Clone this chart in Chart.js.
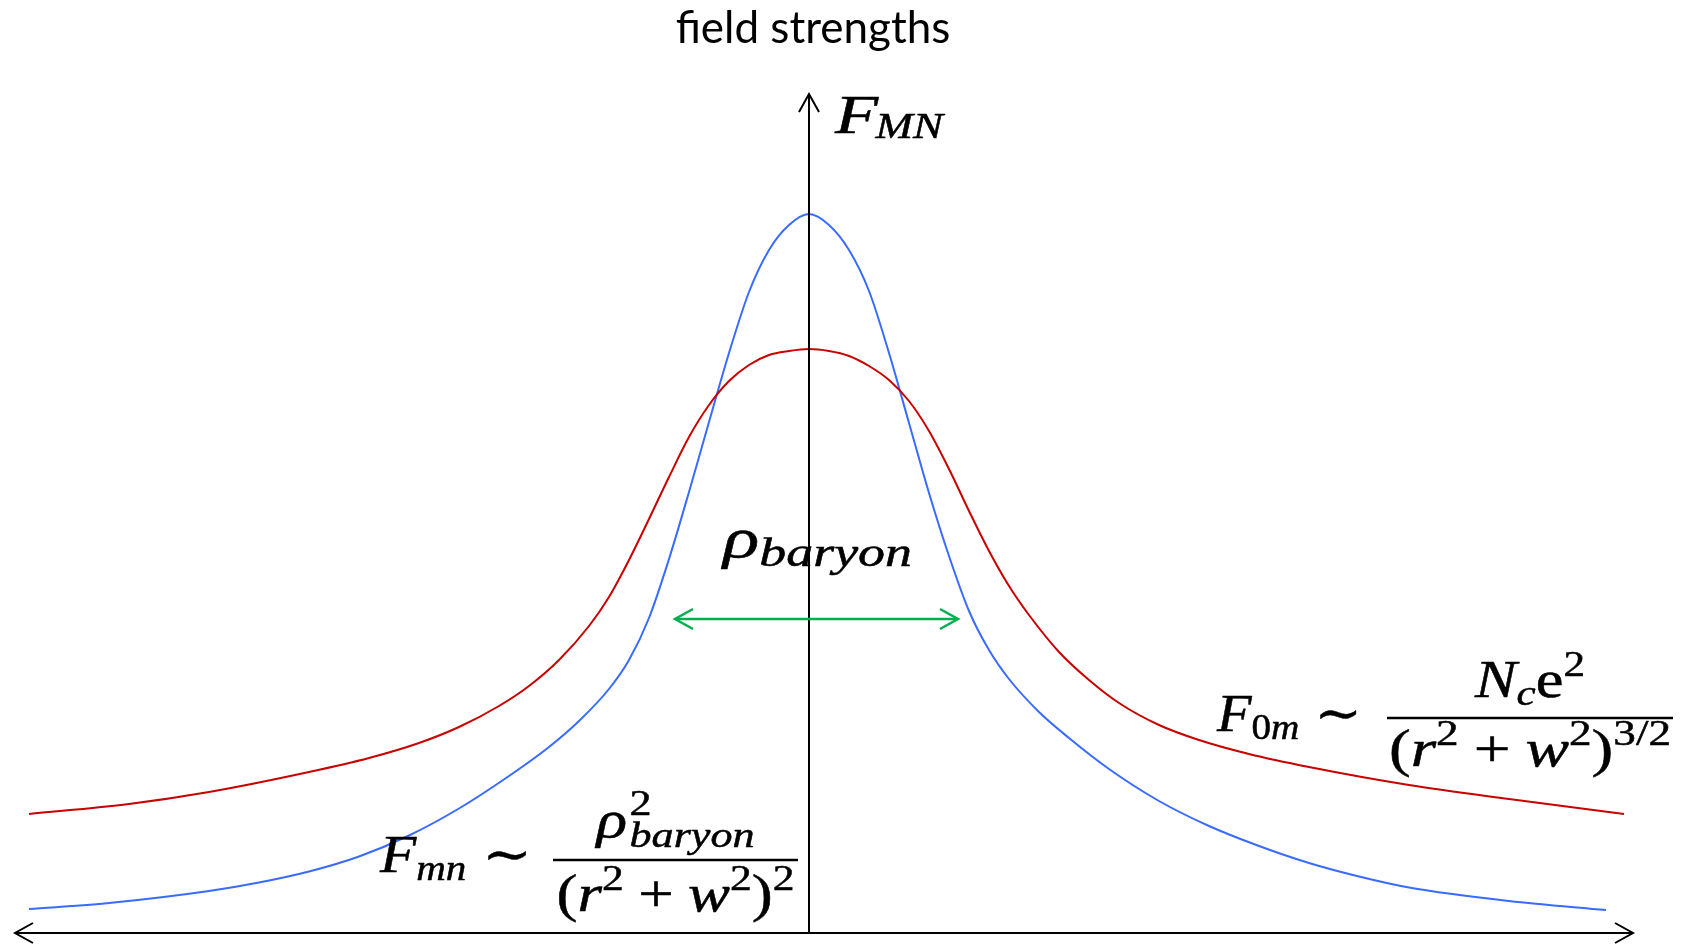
<!DOCTYPE html>
<html>
<head>
<meta charset="utf-8">
<script src="https://cdn.jsdelivr.net/npm/chart.js@4.4.1/dist/chart.umd.min.js"></script>
<style>
  html, body { margin: 0; padding: 0; background: #ffffff; }
  #wrap { width: 1693px; height: 944px; position: relative; }
</style>
</head>
<body>
<div id="wrap"><canvas id="chart"></canvas></div>
<script>
// Radial coordinate r (arbitrary units, core of the baryon at r = 0)
const magneticR = [-7.80, -7.0, -6.0, -5.5, -5.0, -4.5, -4.0, -3.5, -3.0, -2.6, -2.3, -2.0, -1.8, -1.6,
  -1.4, -1.2, -1.0, -0.8, -0.6, -0.4, -0.2, 0.0, 0.2, 0.4, 0.6, 0.8, 1.0, 1.2, 1.4, 1.6, 1.8, 2.0,
  2.3, 2.6, 3.0, 3.5, 4.0, 4.5, 5.0, 5.5, 6.0, 7.0, 7.97];
// Magnetic field strength F_mn (blue)
const magneticF = [0.24, 0.30, 0.42, 0.505, 0.615, 0.765, 0.975, 1.245, 1.57, 1.86, 2.12, 2.44, 2.73, 3.15,
  3.74, 4.41, 5.11, 5.80, 6.41, 6.83, 7.08, 7.19, 7.08, 6.83, 6.42, 5.80, 5.10, 4.40, 3.77, 3.22, 2.83, 2.54,
  2.21, 1.95, 1.64, 1.32, 1.07, 0.87, 0.70, 0.565, 0.455, 0.32, 0.23];

const electricR = [-7.80, -6.8, -6.0, -5.0, -4.4, -3.9, -3.5, -3.1, -2.8, -2.5, -2.2, -2.0, -1.8, -1.6,
  -1.4, -1.2, -1.0, -0.8, -0.6, -0.4, -0.2, 0.0, 0.2, 0.4, 0.6, 0.8, 1.0, 1.2, 1.4, 1.6, 1.8, 2.0,
  2.2, 2.5, 2.8, 3.1, 3.5, 3.9, 4.4, 5.0, 6.0, 7.0, 8.15];
// Electric field strength F_0m (red)
const electricF = [1.19, 1.29, 1.41, 1.61, 1.75, 1.90, 2.06, 2.27, 2.47, 2.73, 3.07, 3.36, 3.73, 4.14,
  4.56, 4.96, 5.28, 5.52, 5.68, 5.78, 5.82, 5.84, 5.82, 5.77, 5.67, 5.53, 5.32, 5.02, 4.64, 4.22, 3.82, 3.47,
  3.18, 2.81, 2.53, 2.30, 2.08, 1.93, 1.79, 1.66, 1.48, 1.34, 1.19];

// Baryon size marker (extent in r) and axis extents
const baryonWidth = [-1.34, 1.49];
const baryonWidthLevel = 3.14;
const rAxisRange = [-7.94, 8.24];
const fAxisTop = 8.39;

const toPoints = (xs, ys) => xs.map((x, i) => ({ x: x, y: ys[i] }));

// ---- small helpers for typeset formulas on the canvas ----
const MATH_FONT = '"Liberation Serif", "DejaVu Serif", serif';
function fontOf(r) { return (r.i ? 'italic ' : '') + r.s + 'px ' + MATH_FONT; }
function runWidth(ctx, r) {
  if (r.stack) return Math.max.apply(null, r.stack.map(q => runWidth(ctx, q)));
  ctx.font = fontOf(r);
  return ctx.measureText(r.t).width;
}
function measureRuns(ctx, runs) {
  return runs.reduce((w, r) => w + (r.gap || 0) + runWidth(ctx, r), 0);
}
function drawRuns(ctx, runs, x, y, width, align) {
  const nat = measureRuns(ctx, runs);
  const sx = width ? width / nat : 1;
  const w = nat * sx;
  const x0 = align === 'center' ? x - w / 2 : x;
  ctx.save();
  ctx.translate(x0, y);
  ctx.scale(sx, 1);
  ctx.textBaseline = 'alphabetic';
  ctx.textAlign = 'left';
  ctx.fillStyle = '#000';
  ctx.strokeStyle = '#000';
  ctx.lineWidth = 0.5;
  ctx.lineJoin = 'round';
  let cx = 0;
  for (const r of runs) {
    cx += r.gap || 0;
    const items = r.stack || [r];
    for (const q of items) {
      ctx.font = fontOf(q);
      ctx.fillText(q.t, cx, q.dy || 0);
      ctx.strokeText(q.t, cx, q.dy || 0);
    }
    cx += runWidth(ctx, r);
  }
  ctx.restore();
}
function openArrowHead(ctx, tx, ty, dir) {
  // dir: 'left' | 'right' | 'up'
  const back = 18, half = 10;
  ctx.beginPath();
  if (dir === 'left') { ctx.moveTo(tx + back, ty - half); ctx.lineTo(tx, ty); ctx.lineTo(tx + back, ty + half); }
  if (dir === 'right') { ctx.moveTo(tx - back, ty - half); ctx.lineTo(tx, ty); ctx.lineTo(tx - back, ty + half); }
  if (dir === 'up') { ctx.moveTo(tx - half, ty + back); ctx.lineTo(tx, ty); ctx.lineTo(tx + half, ty + back); }
  ctx.stroke();
}

// formula pieces
const sq = (dy) => ({ t: '2', s: 36, dy: dy });
const denomCore = [
  { t: '(', s: 52 }, { t: 'r', s: 52, i: 1 }, sq(-21),
  { t: '+', s: 52, gap: 12 }, { t: 'w', s: 52, i: 1, gap: 12 }, sq(-21), { t: ')', s: 52 }
];

const decorations = {
  id: 'decorations',
  afterDatasetsDraw(chart) {
    const ctx = chart.ctx;
    const xs = chart.scales.x, ys = chart.scales.y;
    const px = v => xs.getPixelForValue(v);
    const py = v => ys.getPixelForValue(v);
    ctx.save();

    // axes with open arrow heads
    ctx.strokeStyle = '#000';
    ctx.lineWidth = 2;
    ctx.lineCap = 'butt';
    ctx.beginPath();
    ctx.moveTo(px(rAxisRange[0]), py(0)); ctx.lineTo(px(rAxisRange[1]), py(0));
    ctx.moveTo(px(0), py(0)); ctx.lineTo(px(0), py(fAxisTop));
    ctx.stroke();
    openArrowHead(ctx, px(rAxisRange[0]), py(0), 'left');
    openArrowHead(ctx, px(rAxisRange[1]), py(0), 'right');
    openArrowHead(ctx, px(0), py(fAxisTop), 'up');

    // baryon size double arrow
    ctx.strokeStyle = '#00b050';
    ctx.lineWidth = 2.5;
    ctx.beginPath();
    ctx.moveTo(px(baryonWidth[0]), py(baryonWidthLevel));
    ctx.lineTo(px(baryonWidth[1]), py(baryonWidthLevel));
    ctx.stroke();
    openArrowHead(ctx, px(baryonWidth[0]), py(baryonWidthLevel), 'left');
    openArrowHead(ctx, px(baryonWidth[1]), py(baryonWidthLevel), 'right');

    // title
    ctx.fillStyle = '#000';
    ctx.font = '44px Lato, "Open Sans", sans-serif';
    ctx.textAlign = 'center';
    ctx.textBaseline = 'alphabetic';
    ctx.fillText('field strengths', px(0.04), 43);

    // F_MN at the top of the vertical axis
    drawRuns(ctx, [{ t: 'F', s: 55, i: 1 }, { t: 'MN', s: 35, i: 1, dy: 5, gap: -2 }],
      px(0.26), py(8.00), 108, 'left');

    // rho_baryon above the double arrow
    drawRuns(ctx, [{ t: 'ρ', s: 56, i: 1 }, { t: 'baryon', s: 40, i: 1, dy: 9 }],
      px(-0.86), py(3.76), 189, 'left');

    // F_mn ~ rho^2_baryon / (r^2 + w^2)^2
    drawRuns(ctx, [{ t: 'F', s: 52, i: 1 }, { t: 'mn', s: 36, i: 1, dy: 8 }, { t: '∼', s: 52, gap: 14 }],
      px(-4.29), py(0.61), 152, 'left');
    ctx.strokeStyle = '#000';
    ctx.lineWidth = 2.5;
    ctx.beginPath(); ctx.moveTo(px(-2.56), py(0.73)); ctx.lineTo(px(-0.11), py(0.73)); ctx.stroke();
    const magMid = (px(-2.56) + px(-0.11)) / 2;
    drawRuns(ctx, [{ t: 'ρ', s: 52, i: 1 },
      { stack: [{ t: '2', s: 36, dy: -22 }, { t: 'baryon', s: 36, i: 1, dy: 10 }], gap: 2 }],
      magMid, py(0.96), 158, 'center');
    drawRuns(ctx, denomCore.concat([sq(-21)]), magMid, py(0.22), 238, 'center');

    // F_0m ~ N_c e^2 / (r^2 + w^2)^{3/2}
    drawRuns(ctx, [{ t: 'F', s: 52, i: 1 }, { t: '0', s: 36, dy: 8 }, { t: 'm', s: 36, i: 1, dy: 8 }, { t: '∼', s: 52, gap: 14 }],
      px(4.08), py(2.02), 145, 'left');
    ctx.strokeStyle = '#000';
    ctx.lineWidth = 2.5;
    ctx.beginPath(); ctx.moveTo(px(5.78), py(2.15)); ctx.lineTo(px(8.64), py(2.15)); ctx.stroke();
    const eleMid = (px(5.78) + px(8.64)) / 2;
    drawRuns(ctx, [{ t: 'N', s: 52, i: 1 }, { t: 'c', s: 36, i: 1, dy: 8 }, { t: 'e', s: 52 }, sq(-21)],
      eleMid, py(2.36), 110, 'center');
    drawRuns(ctx, denomCore.concat([{ t: '3/2', s: 36, dy: -21 }]), eleMid, py(1.67), 282, 'center');

    ctx.restore();
  }
};

new Chart(document.getElementById('chart'), {
  type: 'scatter',
  data: {
    datasets: [
      {
        label: 'F_0m',
        data: toPoints(electricR, electricF),
        showLine: true,
        borderColor: '#c80000',
        borderWidth: 2,
        pointRadius: 0,
        cubicInterpolationMode: 'monotone',
        fill: false
      },
      {
        label: 'F_mn',
        data: toPoints(magneticR, magneticF),
        showLine: true,
        borderColor: '#3a6bff',
        borderWidth: 2,
        pointRadius: 0,
        cubicInterpolationMode: 'monotone',
        fill: false
      }
    ]
  },
  options: {
    responsive: true,
    maintainAspectRatio: false,
    animation: false,
    layout: { padding: 0 },
    plugins: { legend: { display: false }, tooltip: { enabled: false }, title: { display: false } },
    scales: {
      x: { type: 'linear', min: -8.09, max: 8.84, display: false },
      y: { type: 'linear', min: -0.11, max: 9.33, display: false }
    }
  },
  plugins: [decorations]
});
</script>
</body>
</html>
